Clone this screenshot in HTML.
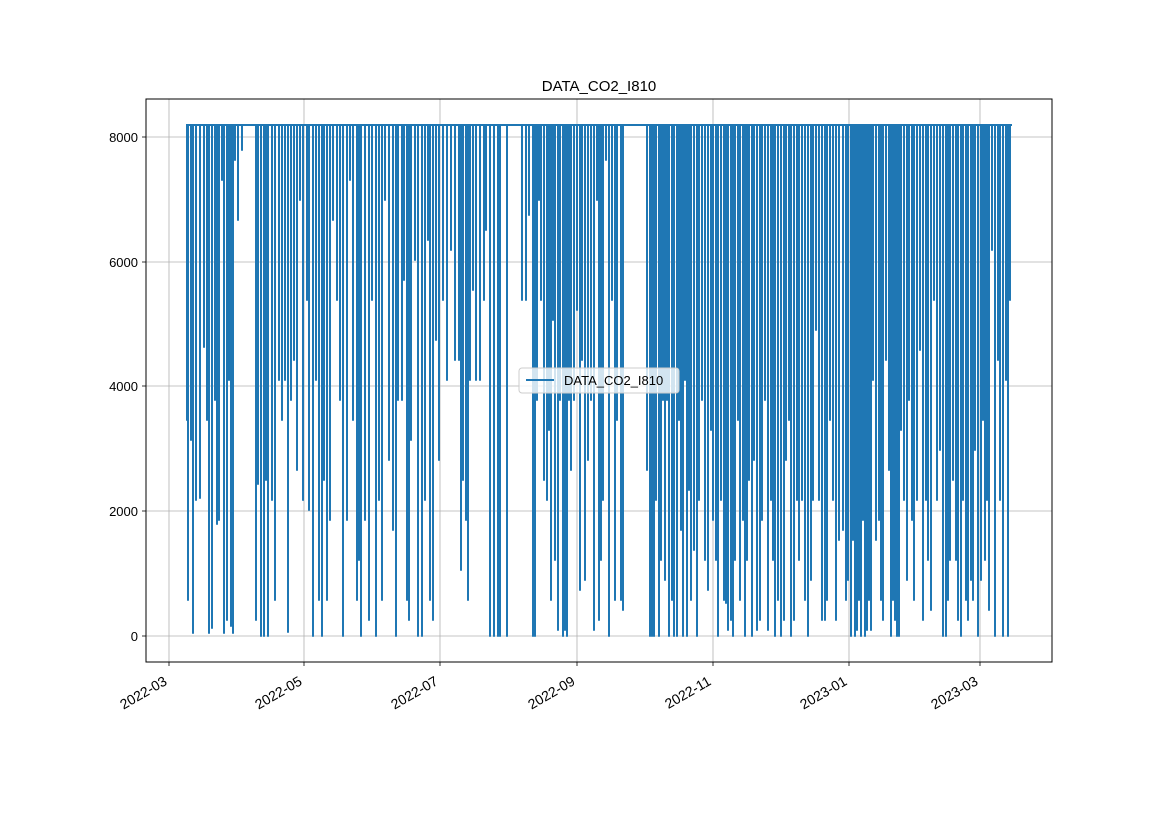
<!DOCTYPE html>
<html><head><meta charset="utf-8"><style>html,body{margin:0;padding:0;background:#fff}svg{display:block;font-family:"Liberation Sans","DejaVu Sans",sans-serif}</style></head>
<body>
<svg width="1169" height="827" viewBox="0 0 1169 827" xmlns="http://www.w3.org/2000/svg">
<rect width="1169" height="827" fill="#fff"/>
<g stroke="#b0b0b0" stroke-width="0.8">
<line x1="169" y1="99" x2="169" y2="662"/><line x1="304" y1="99" x2="304" y2="662"/><line x1="440" y1="99" x2="440" y2="662"/><line x1="577" y1="99" x2="577" y2="662"/><line x1="713" y1="99" x2="713" y2="662"/><line x1="849" y1="99" x2="849" y2="662"/><line x1="980" y1="99" x2="980" y2="662"/>
<line x1="146" y1="636" x2="1052" y2="636"/><line x1="146" y1="511" x2="1052" y2="511"/><line x1="146" y1="386" x2="1052" y2="386"/><line x1="146" y1="262" x2="1052" y2="262"/><line x1="146" y1="137" x2="1052" y2="137"/>
</g>
<path fill="none" stroke="#1f77b4" stroke-width="2" stroke-linejoin="round" d="M186 125
H187V420V125H188V600V125H191V440V125H193V633V125H196V500V125H200V498V125H204V347V125H207V420V125H209V633V125H212V628V125H215V400V125H217V524V125H219V520V125H222V180V125H224V633V125H227V620V125H229V380V125H231V626V125H233V633V125H235V160V125H238V220V125H242V150V125
H256V620V125H258V484V125H261V636V125H264V636V125H266V480V125H268V636V125H272V500V125H275V600V125H279V380V125H282V420V125H285V380V125H288V632V125H291V400V125H294V360V125H297V470V125H300V200V125H303V500V125H307V300V125H309V510V125H313V636V125H316V380V125H319V600V125H322V636V125H324V480V125H327V600V125H330V520V125H333V220V125H337V300V125H340V400V125H343V636V125H347V520V125H350V180V125H353V420V125H357V600V125H359V560V125H361V636V125H365V520V125H369V620V125H372V300V125H376V636V125H379V500V125H382V600V125H385V200V125H389V460V125H393V530V125H396V636V125H398V400V125H402V400V125H404V280V125H407V600V125H409V620V125H411V440V125H415V260V125H418V636V125H422V636V125H425V500V125H428V240V125H430V600V125H433V620V125H436V340V125H439V460V125H443V300V125H447V380V125H451V250V125H455V360V125H459V360V125H461V570V125H463V480V125H466V520V125H468V600V125H470V380V125H473V290V125H476V380V125H480V380V125H484V300V125H486V230V125H490V636V125H494V636V125H498V636V125H500V636V125H507V636V125
H522V300V125H526V300V125H529V215V125H533V636V125H535V636V125H537V400V125H539V200V125H541V300V125H544V480V125H547V500V125H549V430V125H551V600V125H553V320V125H555V560V125H558V630V125H560V400V125H563V636V125H565V630V125H567V636V125H569V400V125H571V470V125H574V400V125H577V310V125H580V590V125H582V360V125H585V580V125H588V460V125H591V400V125H594V630V125H597V200V125H599V620V125H601V560V125H603V500V125H606V160V125H609V636V125H612V300V125H615V600V125H617V420V125H621V600V125H623V610V125
H647V470V125H650V636V125H652V636V125H654V636V125H656V500V125H659V636V125H661V560V125H663V400V125H665V580V125H667V400V125H669V636V125H672V600V125H674V636V125H677V636V125H679V420V125H681V530V125H683V636V125H685V380V125H687V636V125H689V490V125H691V600V125H694V550V125H697V636V125H699V500V125H702V400V125H705V560V125H708V590V125H711V430V125H713V520V125H716V560V125H718V636V125H721V500V125H724V600V125H726V603V125H728V630V125H731V620V125H733V636V125H735V560V125H738V420V125H740V600V125H743V520V125H745V636V125H747V560V125H749V480V125H752V636V125H754V460V125H757V630V125H760V620V125H762V520V125H765V400V125H768V630V125H771V500V125H773V560V125H775V636V125H778V600V125H781V636V125H784V620V125H786V460V125H789V420V125H791V636V125H794V620V125H797V500V125H799V560V125H802V500V125H805V600V125H808V636V125H811V580V125H813V500V125H816V330V125H819V500V125H822V620V125H825V620V125H827V600V125H830V420V125H833V500V125H836V620V125H839V540V125H843V530V125H846V600V125H848V580V125H851V636V125H853V540V125H855V636V125H857V630V125H859V600V125H861V636V125H863V520V125H865V636V125H867V630V125H869V600V125H871V630V125H873V380V125H876V540V125H879V520V125H881V600V125H883V620V125H886V360V125H889V470V125H891V636V125H893V600V125H895V620V125H897V636V125H899V636V125H901V430V125H904V500V125H907V580V125H909V400V125H912V520V125H914V600V125H917V500V125H920V350V125H923V620V125H926V500V125H928V560V125H931V610V125H934V300V125H937V500V125H940V450V125H943V636V125H946V636V125H948V600V125H950V560V125H953V480V125H956V560V125H958V620V125H961V636V125H963V500V125H966V600V125H968V620V125H971V580V125H973V600V125H975V450V125H978V636V125H981V580V125H983V420V125H985V560V125H987V500V125H989V610V125H992V250V125H995V636V125H998V360V125H1000V500V125H1003V636V125H1006V380V125H1008V636V125H1010V300V125H1012"/>
<rect x="146" y="99" width="906" height="563" fill="none" stroke="#000" stroke-width="1"/>
<g stroke="#000" stroke-width="0.8">
<line x1="169" y1="662" x2="169" y2="666"/><line x1="304" y1="662" x2="304" y2="666"/><line x1="440" y1="662" x2="440" y2="666"/><line x1="577" y1="662" x2="577" y2="666"/><line x1="713" y1="662" x2="713" y2="666"/><line x1="849" y1="662" x2="849" y2="666"/><line x1="980" y1="662" x2="980" y2="666"/>
<line x1="142" y1="636" x2="146" y2="636"/><line x1="142" y1="511" x2="146" y2="511"/><line x1="142" y1="386" x2="146" y2="386"/><line x1="142" y1="262" x2="146" y2="262"/><line x1="142" y1="137" x2="146" y2="137"/>
</g>
<g font-size="13" fill="#000" text-anchor="end">
<text x="138" y="641">0</text><text x="138" y="516">2000</text><text x="138" y="391">4000</text><text x="138" y="267">6000</text><text x="138" y="142">8000</text>
</g>
<g font-size="14" fill="#000" text-anchor="end">
<text transform="translate(168,684) rotate(-30)">2022-03</text>
<text transform="translate(303,684) rotate(-30)">2022-05</text>
<text transform="translate(439,684) rotate(-30)">2022-07</text>
<text transform="translate(576,684) rotate(-30)">2022-09</text>
<text transform="translate(712,684) rotate(-30)">2022-11</text>
<text transform="translate(848,684) rotate(-30)">2023-01</text>
<text transform="translate(979,684) rotate(-30)">2023-03</text>
</g>
<text x="599" y="91" font-size="15" text-anchor="middle">DATA_CO2_I810</text>
<rect x="519" y="368" width="160" height="25" rx="3" fill="#fff" fill-opacity="0.8" stroke="#ccc"/>
<line x1="526" y1="380" x2="554" y2="380" stroke="#1f77b4" stroke-width="2"/>
<text x="564" y="385" font-size="13">DATA_CO2_I810</text>
</svg>
</body></html>
